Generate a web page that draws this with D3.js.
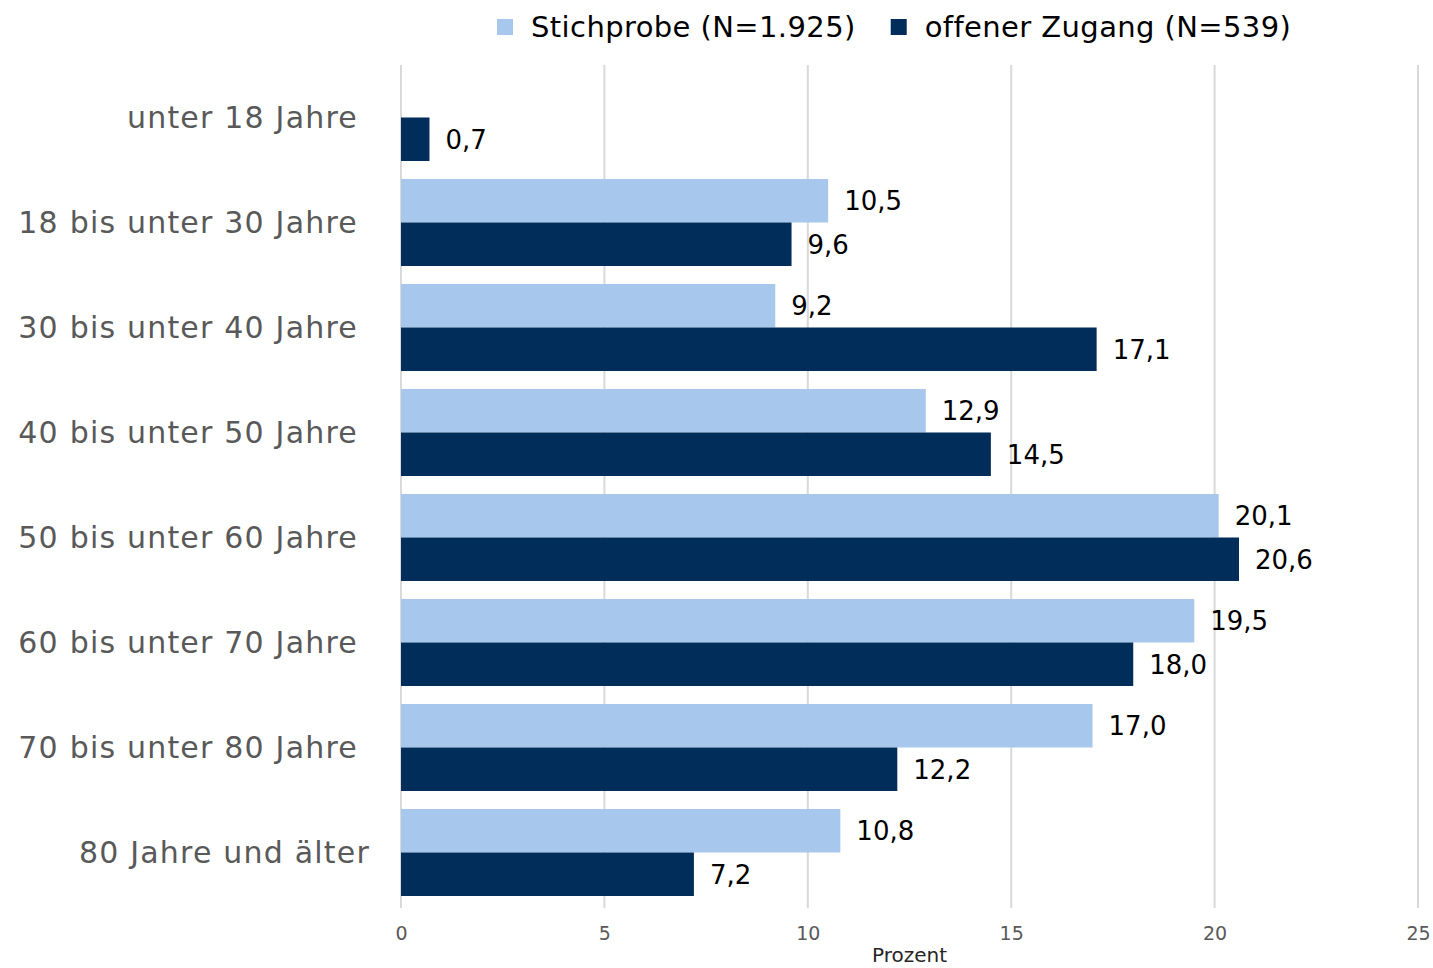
<!DOCTYPE html>
<html>
<head>
<meta charset="utf-8">
<script src="https://cdn.jsdelivr.net/npm/d3@7"></script>
<style>
  body { margin: 0; background: #fff; }
  svg { display: block; font-family: "DejaVu Sans", Verdana, sans-serif; }
</style>
</head>
<body>
<div id="chart"></div>
<script>
// Altersgruppen
const categories = [
  "unter 18 Jahre",
  "18 bis unter 30 Jahre",
  "30 bis unter 40 Jahre",
  "40 bis unter 50 Jahre",
  "50 bis unter 60 Jahre",
  "60 bis unter 70 Jahre",
  "70 bis unter 80 Jahre",
  "80 Jahre und älter"
];
const seriesNames = ["Stichprobe (N=1.925)", "offener Zugang (N=539)"];
const stichprobe = [null, 10.5, 9.2, 12.9, 20.1, 19.5, 17.0, 10.8];
const offenerZugang = [0.7, 9.6, 17.1, 14.5, 20.6, 18.0, 12.2, 7.2];
const xTicks = [0, 5, 10, 15, 20, 25];
const colors = ["#a7c8ec", "#002d59"];

const width = 1433, height = 968;
const marginTop = 65, marginRight = 15, marginBottom = 63, marginLeft = 401;

const data = categories.map((c, i) => ({
  cat: c,
  values: [stichprobe[i], offenerZugang[i]]
}));

const x = d3.scaleLinear().domain([0, 25]).range([marginLeft, width - marginRight]);
const y0 = d3.scaleBand().domain(categories).range([marginTop, height - marginBottom]);
const y1 = d3.scaleBand().domain([0, 1]).range([9, y0.bandwidth() - 9]);

const fmt = v => d3.format(".1f")(v).replace(".", ",");

const svg = d3.select("#chart").append("svg")
  .attr("width", width)
  .attr("height", height)
  .attr("viewBox", [0, 0, width, height]);

// Gitterlinien
svg.append("g")
  .selectAll("line")
  .data(xTicks)
  .join("line")
  .attr("x1", d => x(d))
  .attr("x2", d => x(d))
  .attr("y1", marginTop)
  .attr("y2", height - marginBottom + 3)
  .attr("stroke", "#d9d9d9")
  .attr("stroke-width", 2);

// Balken
const groups = svg.append("g")
  .selectAll("g")
  .data(data)
  .join("g")
  .attr("transform", d => `translate(0,${y0(d.cat)})`);

const bars = groups.selectAll("g")
  .data(d => d.values.map((v, k) => ({ v, k })).filter(e => e.v != null))
  .join("g");

bars.append("rect")
  .attr("x", x(0))
  .attr("y", d => y1(d.k))
  .attr("width", d => x(d.v) - x(0))
  .attr("height", y1.bandwidth())
  .attr("fill", d => colors[d.k]);

bars.append("text")
  .attr("x", d => x(d.v) + 16)
  .attr("y", d => y1(d.k) + y1.bandwidth() / 2)
  .attr("dy", "0.36em")
  .attr("font-size", 26)
  .attr("fill", "#000")
  .text(d => fmt(d.v));

// x-Achse
const xAxis = d3.axisBottom(x).tickValues(xTicks).tickSize(0).tickPadding(0);
svg.append("g")
  .attr("transform", `translate(0,${height - marginBottom + 21})`)
  .call(xAxis)
  .call(g => g.select(".domain").remove())
  .call(g => g.selectAll("text")
    .attr("font-family", "DejaVu Sans, sans-serif")
    .attr("font-size", 19)
    .attr("fill", "#595959"));

svg.append("text")
  .attr("x", (x(0) + x(25)) / 2)
  .attr("y", 962)
  .attr("text-anchor", "middle")
  .attr("font-size", 20)
  .attr("fill", "#262626")
  .text("Prozent");

// y-Achse Beschriftung (letzte Zeile sitzt im Original etwas weiter rechts)
svg.append("g")
  .selectAll("text")
  .data(categories)
  .join("text")
  .attr("x", (d, i) => i === categories.length - 1 ? 370 : 358)
  .attr("y", d => y0(d) + y0.bandwidth() / 2)
  .attr("dy", "0.36em")
  .attr("text-anchor", "end")
  .attr("font-size", 30)
  .attr("letter-spacing", 1.2)
  .attr("fill", "#595959")
  .text(d => d);

// Legende
const legend = svg.append("g").attr("transform", "translate(497,27)");
let lx = 0;
seriesNames.forEach((name, k) => {
  const item = legend.append("g").attr("transform", `translate(${lx},0)`);
  item.append("rect")
    .attr("x", 0).attr("y", -8)
    .attr("width", 16).attr("height", 16)
    .attr("fill", colors[k]);
  const t = item.append("text")
    .attr("x", 34)
    .attr("dy", "0.36em")
    .attr("font-size", 29)
    .attr("letter-spacing", 0.4)
    .attr("fill", "#000")
    .text(name);
  lx += 34 + t.node().getComputedTextLength() + 35;
});
</script>
</body>
</html>
